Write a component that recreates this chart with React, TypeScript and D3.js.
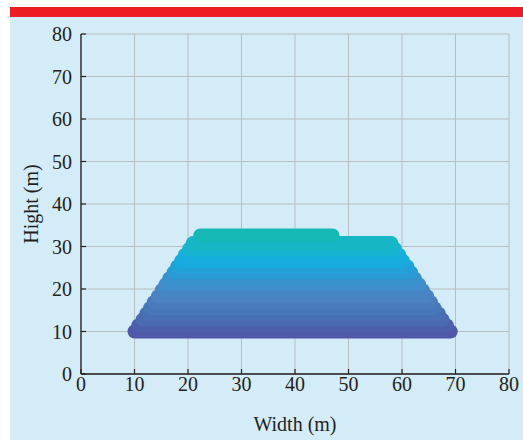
import React from "react";
import * as d3 from "d3";

// Layer data (bottom to top)
const layerHeights = [10.0, 11.4, 12.8, 14.2, 15.5, 16.9, 18.3, 19.7, 21.1, 22.5, 23.9, 25.3, 26.6, 28.0, 29.4, 30.8, 32.6];
const layerStart = [10.0, 10.7, 11.5, 12.2, 12.9, 13.6, 14.4, 15.1, 15.8, 16.5, 17.3, 18.0, 18.7, 19.4, 20.2, 20.9, 22.3];
const layerEnd = [69.1, 68.4, 67.6, 66.9, 66.1, 65.4, 64.7, 63.9, 63.2, 62.4, 61.7, 61.0, 60.2, 59.5, 58.7, 58.0, 47.0];
const layerColors = [
  "#5058a7", "#4d5fab", "#4a6ab1", "#486fb4", "#4877b9", "#4a7bbc", "#4a82c2", "#4785c4",
  "#3f8dca", "#3991cc", "#2a9bd4", "#22a0d8", "#17abdf", "#16aedc", "#16b4cf", "#16b6c6", "#15b8b5",
];

const xTicks = [0, 10, 20, 30, 40, 50, 60, 70, 80];
const yTicks = [0, 10, 20, 30, 40, 50, 60, 70, 80];
const xTitle = "Width (m)";
const yTitle = "Hight (m)";

const W = 523;
const H = 441;
const left = 81;
const right = 509;
const top = 34;
const bottom = 374;

export default function App() {
  const x = d3.scaleLinear().domain([0, 80]).range([left, right]);
  const y = d3.scaleLinear().domain([0, 80]).range([bottom, top]);
  const font = "'Liberation Serif', 'Times New Roman', serif";
  const ink = "#231f20";
  const grid = "#b9bdc1";

  return (
    <svg
      width={W}
      height={H}
      style={{ position: "absolute", left: 0, top: 0 }}
      xmlns="http://www.w3.org/2000/svg"
    >
      <rect x={0} y={0} width={W} height={H} fill="#ffffff" />
      <rect x={10} y={17} width={W - 10} height={423} fill="#d3ecf8" />
      <rect x={10} y={7} width={W - 10} height={10} fill="#ed1c24" />

      {/* grid */}
      {xTicks.map((t) => (
        <line key={"gx" + t} x1={x(t)} x2={x(t)} y1={top} y2={bottom} stroke={grid} strokeWidth={1} />
      ))}
      {yTicks.map((t) => (
        <line key={"gy" + t} x1={left} x2={right} y1={y(t)} y2={y(t)} stroke={grid} strokeWidth={1} />
      ))}

      {/* layers */}
      {layerHeights.map((h, i) => (
        <line
          key={"l" + i}
          x1={x(layerStart[i])}
          x2={x(layerEnd[i])}
          y1={y(h)}
          y2={y(h)}
          stroke={layerColors[i]}
          strokeWidth={14}
          strokeLinecap="round"
        />
      ))}

      {/* axes */}
      <line x1={left} x2={left} y1={top} y2={bottom} stroke={ink} strokeWidth={1.3} />
      <line x1={left} x2={right} y1={bottom} y2={bottom} stroke={ink} strokeWidth={1.3} />
      {xTicks.map((t) => (
        <line key={"tx" + t} x1={x(t)} x2={x(t)} y1={bottom} y2={bottom - 5} stroke={ink} strokeWidth={1.2} />
      ))}
      {yTicks.map((t) => (
        <line key={"ty" + t} x1={left} x2={left + 5} y1={y(t)} y2={y(t)} stroke={ink} strokeWidth={1.2} />
      ))}

      {/* tick labels */}
      {xTicks.map((t) => (
        <text key={"lx" + t} x={x(t)} y={bottom + 17} textAnchor="middle" fontFamily={font} fontSize={20} fill={ink}>
          {t}
        </text>
      ))}
      {yTicks.map((t) => (
        <text key={"ly" + t} x={left - 9} y={y(t) + 7} textAnchor="end" fontFamily={font} fontSize={20} fill={ink}>
          {t}
        </text>
      ))}

      <text x={(left + right) / 2} y={431} textAnchor="middle" fontFamily={font} fontSize={20} fill={ink}>
        {xTitle}
      </text>
      <text
        transform={`translate(38,${(top + bottom) / 2}) rotate(-90)`}
        textAnchor="middle"
        fontFamily={font}
        fontSize={20}
        fill={ink}
      >
        {yTitle}
      </text>
    </svg>
  );
}
